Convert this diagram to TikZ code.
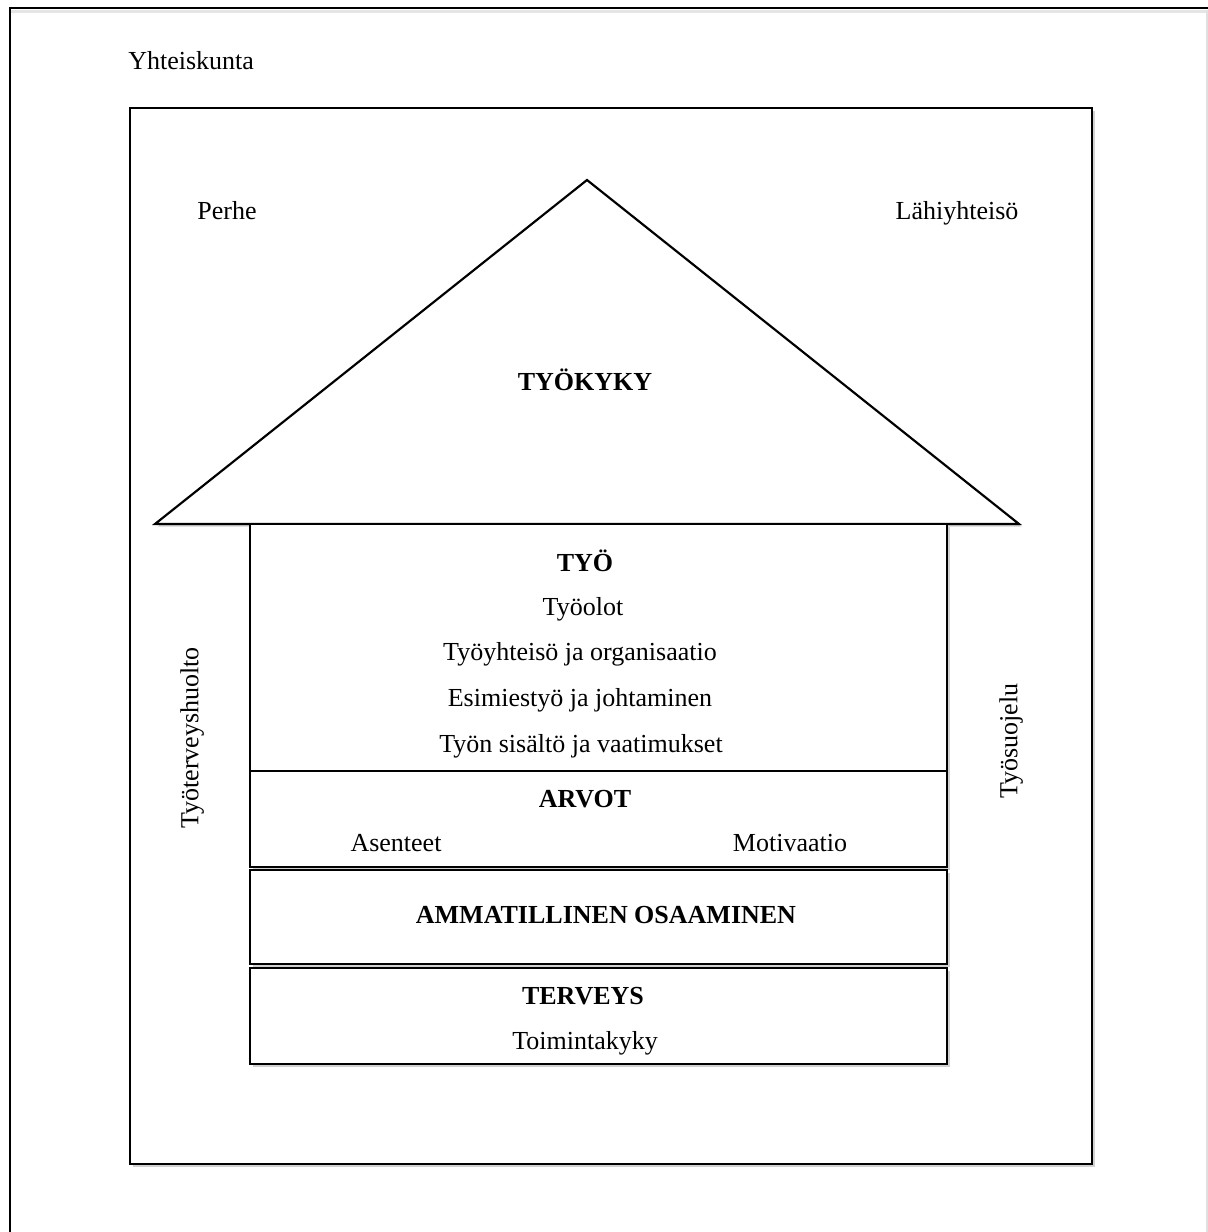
\documentclass[tikz,border=0pt]{standalone}
\usepackage{fontspec}
\setmainfont{Liberation Serif}
\usetikzlibrary{shadows}
\begin{document}
\begin{tikzpicture}[x=0.6pt,y=-0.6pt,
  frame/.style={line width=1.3pt,line join=miter},
  box/.style={draw,line width=1.3pt,fill=white,drop shadow={shadow xshift=1.6pt,shadow yshift=-1.6pt,opacity=0.18,fill=black}},
  lbl/.style={font=\fontsize{15.6pt}{18pt}\selectfont,inner sep=0pt,text height=11pt,text depth=3.4pt},
  blbl/.style={lbl,font=\fontsize{15.6pt}{18pt}\selectfont\bfseries}]
\useasboundingbox (0,0) rectangle (1208,1232);
\fill[white] (0,0) rectangle (1208,1232);
% outer frame (Yhteiskunta)
\fill[black!10] (11,10) rectangle (1208,13);
\draw[frame] (1208,8) -- (10,8) -- (10,1232);
\draw[black!12,line width=0.8pt] (1207,10) -- (1207,1232);
% inner frame
\path[box] (130,108) rectangle (1092,1164);
% roof
\path[box,line join=miter] (587,180) -- (1019,524) -- (155,524) -- cycle;
% house boxes
\path[box] (250,524) rectangle (947,771);
\path[box] (250,771) rectangle (947,867);
\path[box] (250,870) rectangle (947,964);
\path[box] (250,968) rectangle (947,1064);
% texts
\node[lbl,anchor=west] (yht) at (128,63) {Yhteiskunta};
\node[lbl] (perhe) at (227,213) {Perhe};
\node[lbl] (lahi) at (957,213) {Lähiyhteisö};
\node[blbl] (tyokyky) at (585,384) {TYÖKYKY};
\node[blbl] (tyo) at (585,565) {TYÖ};
\node[lbl] (tyoolot) at (583,609) {Työolot};
\node[lbl] (tyoyht) at (580,654) {Työyhteisö ja organisaatio};
\node[lbl] (esim) at (580,700) {Esimiestyö ja johtaminen};
\node[lbl] (sisalto) at (581,746) {Työn sisältö ja vaatimukset};
\node[blbl] (arvot) at (585,801) {ARVOT};
\node[lbl] (asen) at (396,845) {Asenteet};
\node[lbl] (moti) at (790,845) {Motivaatio};
\node[blbl] (amm) at (606,917) {AMMATILLINEN OSAAMINEN};
\node[blbl] (terv) at (583,998) {TERVEYS};
\node[lbl] (toim) at (585,1043) {Toimintakyky};
\node[lbl,rotate=90] (tth) at (192,738) {Työterveyshuolto};
\node[lbl,rotate=90] (tsu) at (1011,741) {Työsuojelu};
\end{tikzpicture}
\end{document}
